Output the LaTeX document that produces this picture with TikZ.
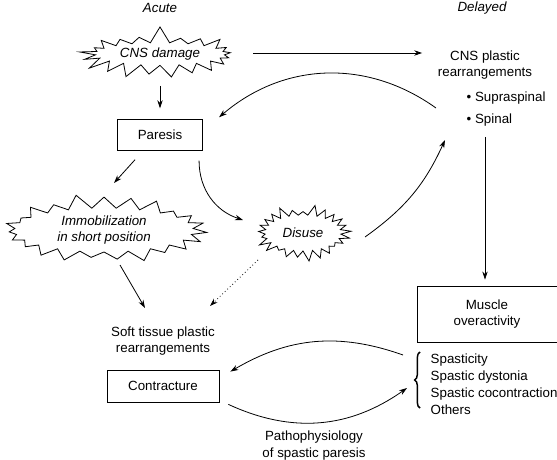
\documentclass[tikz,border=0pt]{standalone}
\usepackage{fontspec}
\setsansfont{Liberation Sans}
\usetikzlibrary{arrows.meta,positioning,calc,shapes.symbols,decorations.pathreplacing}

\begin{document}
\begin{tikzpicture}[
        x=0.75pt, y=0.75pt,
        plainText/.style={
            font=\sffamily,
            align=center
        },
        boxNode/.style={
            draw,
            line width=0.6pt,
            minimum width=64pt,
            minimum height=23pt,
            font=\sffamily,
            align=center
        },
        burstNode/.style={
            starburst,
            draw,
            line width=0.6pt,
            starburst points=21,
            starburst point height=11pt,
            random starburst=7,
            inner sep=1pt,
            font=\sffamily\itshape,
            align=center
        },
        pointer/.style={
            -{Stealth[length=6pt,width=4pt]},
            line width=0.6pt
        },
        weakPointer/.style={
            pointer,
            dotted
        }
    ]

        \useasboundingbox (0,0) rectangle (557,-460);

        % Column headings
        \node[plainText, font=\sffamily\itshape] (acute) at (160,-8) {Acute};
        \node[plainText, font=\sffamily\itshape] (delayed) at (482,-8) {Delayed};

        % Acute events
        \node[burstNode, starburst point height=13pt,
            minimum width=123pt, minimum height=43pt] (damage) at (160,-54) {CNS damage};
        \node[boxNode] (paresis) at (160,-135) {Paresis};
        \node[burstNode, starburst points=23, random starburst=11,
            minimum width=156pt, minimum height=54pt] (immob) at (104,-230)
            {Immobilization\\in short position};
        \node[burstNode, starburst points=25, starburst point height=8pt, random starburst=3,
            minimum width=73pt, minimum height=43pt] (disuse) at (303,-233) {Disuse};
        \node[plainText] (soft) at (163,-341) {Soft tissue plastic\\rearrangements};
        \node[boxNode, minimum width=84pt, minimum height=24pt] (contracture) at (163,-386) {Contracture};

        % Delayed events
        \node[plainText] (cnsPlastic) at (485,-65) {CNS plastic\\rearrangements};
        \node[plainText, anchor=west] (supra) at (462,-98) {• Supraspinal};
        \node[plainText, anchor=west] (spinal) at (462,-120) {• Spinal};
        \node[boxNode, minimum width=105pt, minimum height=42pt] (muscle) at (487,-314)
            {Muscle\\overactivity};
        \node[
            plainText,
            align=left,
            anchor=north west,
            font=\sffamily\fontsize{10}{12.75}\selectfont
        ] (forms) at (426,-349) {Spasticity\\Spastic dystonia\\Spastic cocontraction\\Others};
        \node[
            plainText,
            font=\sffamily\fontsize{10}{12.75}\selectfont
        ] (patho) at (314,-446) {Pathophysiology\\of spastic paresis};

        % Brace round the forms of overactivity
        \draw[
            decorate,
            decoration={brace, amplitude=4pt},
            line width=1.1pt
        ] ($(forms.north west)+(-6,-59)$) -- ($(forms.north west)+(-6,-3)$);

        % Free ends of the connectors
        \coordinate (plasticOut) at ($(supra.west)+(-26,-10)$);
        \coordinate (paresisIn) at ($(paresis.north east)+(16,2)$);
        \coordinate (paresisOut) at ($(paresis.south east)+(-4,-10)$);
        \coordinate (disuseIn) at ($(disuse.center)+(-60,13)$);
        \coordinate (disuseOut) at ($(disuse.center)+(62,-4)$);
        \coordinate (spinalIn) at ($(spinal.west)+(-17,-20)$);
        \coordinate (braceTop) at ($(forms.north west)+(-23,-6)$);
        \coordinate (braceLow) at ($(forms.north west)+(-19,-39)$);
        \coordinate (contrIn) at ($(contracture.north east)+(11,-2)$);
        \coordinate (contrOut) at ($(contracture.south east)+(9,-2)$);

        % Straight connectors
        \draw[pointer] ($(damage.center)+(0,-32)$) -- ($(paresis.north)+(0,11)$);
        \draw[pointer] ($(damage.center)+(93,1)$) -- ($(cnsPlastic.west |- damage.center)+(-11,1)$);
        \draw[pointer] ($(paresis.south)+(-25,-9)$) -- ($(immob.center)+(10,47)$);
        \draw[pointer] ($(immob.center)+(16,-35)$) -- ($(soft.center)+(-18,33)$);
        \draw[weakPointer] ($(disuse.center)+(-45,-27)$) -- ($(soft.center)+(47,35)$);
        \draw[pointer] ($(muscle.north |- spinal.south)+(-2,-6)$) -- ($(muscle.north)+(-2,6)$);

        % Curved connectors
        \draw[pointer] (plasticOut) to[bend right=38] (paresisIn);
        \draw[pointer] (paresisOut) to[out=-90, in=162] (disuseIn);
        \draw[pointer] (disuseOut) to[bend right=15] (spinalIn);
        \draw[pointer] (braceTop) to[bend right=25] (contrIn);
        \draw[pointer] (contrOut) to[bend right=30] (braceLow);

    \end{tikzpicture}
\end{document}
